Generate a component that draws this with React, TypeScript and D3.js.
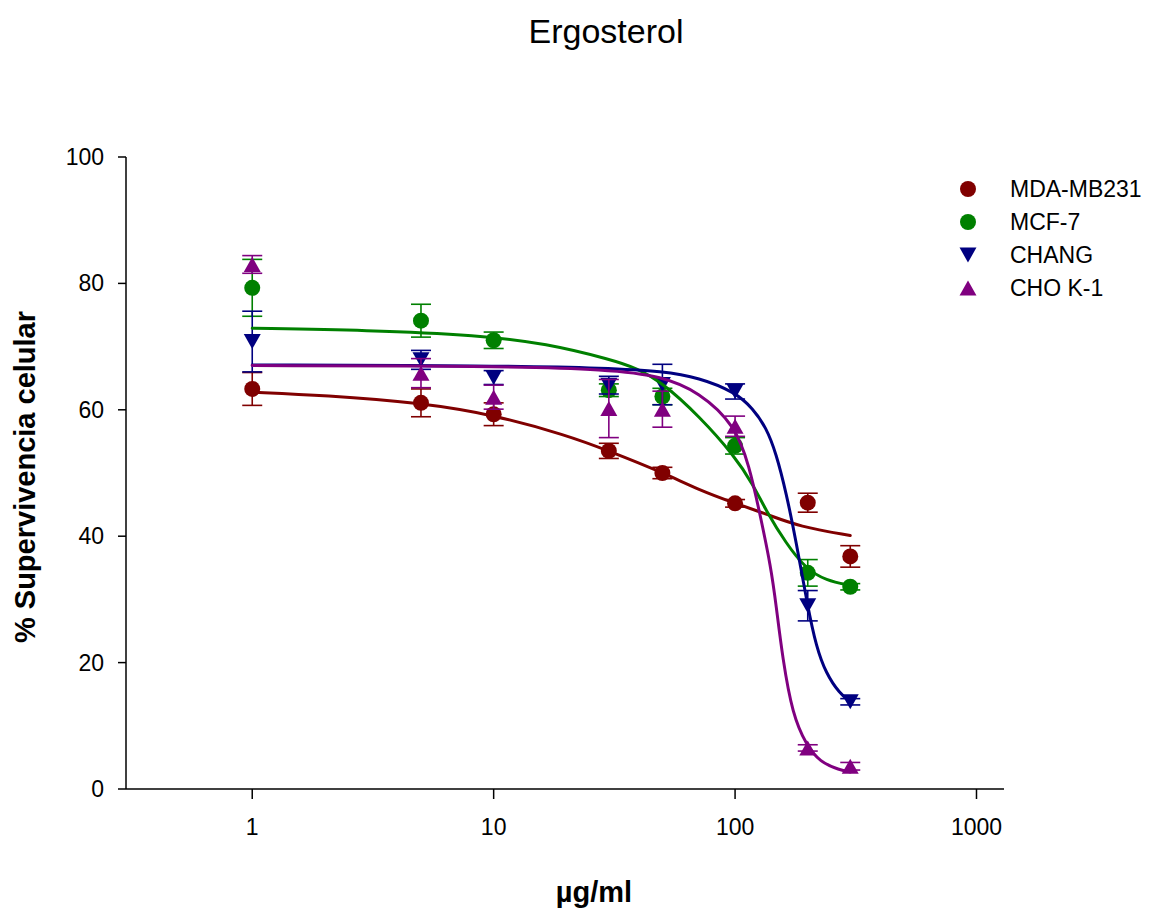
import React from "react";
import * as d3 from "d3";

// ---------- data ----------
const CONCENTRATIONS = [1, 5, 10, 30, 50, 100, 200, 300];

const MDA_MEAN = [63.3, 61.1, 59.3, 53.5, 50.0, 45.2, 45.3, 36.8];
const MDA_ERR = [2.6, 2.2, 1.8, 1.2, 0.9, 0.6, 1.5, 1.7];
const MCF_MEAN = [79.3, 74.1, 71.0, 63.1, 62.1, 54.3, 34.2, 32.0];
const MCF_ERR = [4.5, 2.6, 1.3, 1.0, 1.3, 1.3, 2.1, 0.5];
const CHANG_MEAN = [70.8, 67.9, 65.1, 63.9, 64.0, 62.9, 29.0, 13.8];
const CHANG_ERR = [4.8, 1.5, 1.1, 1.4, 3.2, 1.2, 2.4, 0.5];
const CHO_MEAN = [83.0, 65.8, 62.0, 60.2, 60.1, 57.4, 6.5, 3.6];
const CHO_ERR = [1.4, 2.3, 1.9, 4.6, 2.85, 1.6, 0.5, 0.6];

// fitted curves
const MDA_CURVE_X = [1, 2, 5, 10, 20, 30, 50, 71, 100, 135, 185, 300];
const MDA_CURVE_Y = [62.8, 62.3, 61.1, 59.2, 56.0, 53.5, 50.1, 47.3, 45.2, 43.5, 41.5, 40.1];
const MCF_CURVE_X = [1, 3, 8.7, 16.5, 31, 39, 50, 71, 100, 118.6, 134.5, 163, 197, 238, 300];
const MCF_CURVE_Y = [72.9, 72.6, 71.8, 70.5, 67.9, 66.6, 64.3, 59.0, 52.6, 48.2, 44.0, 38.8, 34.8, 33.0, 32.2];
const CHANG_CURVE_X = [1, 10, 30, 50, 71, 100, 118.6, 134.5, 148, 163, 179, 200, 217, 238, 271, 300];
const CHANG_CURVE_Y = [67.1, 67.0, 66.6, 66.1, 65.1, 62.8, 60.2, 57.2, 53.1, 46.8, 39.2, 28.8, 22.5, 18.3, 15.1, 13.8];
const CHO_CURVE_X = [1, 10, 30, 50, 71, 100, 114.7, 126, 141, 148, 157.6, 173, 197, 224, 271, 300];
const CHO_CURVE_Y = [67.0, 66.9, 66.4, 65.3, 62.8, 57.6, 51.0, 44.0, 35.0, 29.0, 20.5, 11.8, 7.0, 4.3, 3.0, 2.7];

const SERIES_NAMES = ["MDA-MB231", "MCF-7", "CHANG", "CHO K-1"];
const SERIES_COLORS = ["#800000", "#008000", "#000080", "#800080"];
const SERIES_MARKERS = ["circle", "circle", "down", "up"];

const X_TICKS = [1, 10, 100, 1000];
const Y_TICKS = [0, 20, 40, 60, 80, 100];

const TITLE = "Ergosterol";
const X_TITLE = "µg/ml";
const Y_TITLE = "% Supervivencia celular";

// ---------- layout ----------
const W = 1152;
const H = 910;
const FONT = "'Liberation Sans', Arial, Helvetica, sans-serif";

const x = d3.scaleLog().domain([0.3, 1300]).range([126, 1004]);
const y = d3.scaleLinear().domain([0, 100]).range([789, 157]);

const series = SERIES_NAMES.map((name, i) => ({
  name,
  color: SERIES_COLORS[i],
  marker: SERIES_MARKERS[i],
  mean: [MDA_MEAN, MCF_MEAN, CHANG_MEAN, CHO_MEAN][i],
  err: [MDA_ERR, MCF_ERR, CHANG_ERR, CHO_ERR][i],
  cx: [MDA_CURVE_X, MCF_CURVE_X, CHANG_CURVE_X, CHO_CURVE_X][i],
  cy: [MDA_CURVE_Y, MCF_CURVE_Y, CHANG_CURVE_Y, CHO_CURVE_Y][i],
}));

function Marker({ type, px, py, color }: { type: string; px: number; py: number; color: string }) {
  if (type === "circle") return <circle cx={px} cy={py} r={8} fill={color} />;
  const hw = 8.5;
  const hh = 7.5;
  const pts =
    type === "up"
      ? `${px - hw},${py + hh} ${px + hw},${py + hh} ${px},${py - hh}`
      : `${px - hw},${py - hh} ${px + hw},${py - hh} ${px},${py + hh}`;
  return <polygon points={pts} fill={color} />;
}

export default function App() {
  const line = d3
    .line<[number, number]>()
    .x((d) => x(d[0]))
    .y((d) => y(d[1]))
    .curve(d3.curveBasis);

  const [x0, x1] = x.range();
  const [y0, y1] = y.range();

  return (
    <svg
      width={W}
      height={H}
      viewBox={`0 0 ${W} ${H}`}
      style={{ position: "absolute", left: 0, top: 0, background: "#fff", display: "block" }}
      fontFamily={FONT}
    >
      <rect x={0} y={0} width={W} height={H} fill="#fff" />
      {/* title */}
      <text x={606} y={43} fontSize={34} textAnchor="middle" fill="#000">
        {TITLE}
      </text>

      {/* axes */}
      <g stroke="#000" strokeWidth={1.5} fill="none">
        <line x1={x0} x2={x0} y1={y1} y2={y0} />
        <line x1={x0} x2={x1} y1={y0} y2={y0} />
        {Y_TICKS.map((t) => (
          <line key={"yt" + t} x1={x0 - 8} x2={x0} y1={y(t)} y2={y(t)} />
        ))}
        {X_TICKS.map((t) => (
          <line key={"xt" + t} x1={x(t)} x2={x(t)} y1={y0} y2={y0 + 10} />
        ))}
      </g>
      {Y_TICKS.map((t) => (
        <text key={"yl" + t} x={104} y={y(t) + 8} fontSize={23} textAnchor="end" fill="#000">
          {t}
        </text>
      ))}
      {X_TICKS.map((t) => (
        <text key={"xl" + t} x={x(t)} y={835} fontSize={23} textAnchor="middle" fill="#000">
          {t}
        </text>
      ))}
      <text x={594} y={902} fontSize={29} fontWeight="bold" textAnchor="middle" fill="#000">
        {X_TITLE}
      </text>
      <text
        transform={`translate(35,477) rotate(-90)`}
        fontSize={29}
        fontWeight="bold"
        textAnchor="middle"
        fill="#000"
      >
        {Y_TITLE}
      </text>

      {/* scatter with error bars */}
      {series.map((s) => (
        <g key={"pts" + s.name}>
          {CONCENTRATIONS.map((c, j) => {
            const px = x(c);
            const top = y(s.mean[j] + s.err[j]);
            const bot = y(s.mean[j] - s.err[j]);
            return (
              <g key={j}>
                <g stroke={s.color} strokeWidth={1.6}>
                  <line x1={px} x2={px} y1={top} y2={bot} />
                  <line x1={px - 10} x2={px + 10} y1={top} y2={top} />
                  <line x1={px - 10} x2={px + 10} y1={bot} y2={bot} />
                </g>
                <Marker type={s.marker} px={px} py={y(s.mean[j])} color={s.color} />
              </g>
            );
          })}
        </g>
      ))}

      {/* fitted curves */}
      {series.map((s) => (
        <path
          key={"curve" + s.name}
          d={line(s.cx.map((v, k) => [v, s.cy[k]] as [number, number])) || ""}
          fill="none"
          stroke={s.color}
          strokeWidth={3}
          strokeLinejoin="round"
          strokeLinecap="round"
        />
      ))}

      {/* legend */}
      {series.map((s, i) => (
        <g key={"leg" + s.name}>
          <Marker type={s.marker} px={968} py={189 + i * 33} color={s.color} />
          <text x={1010} y={189 + i * 33 + 8} fontSize={23} fill="#000">
            {s.name}
          </text>
        </g>
      ))}
    </svg>
  );
}
